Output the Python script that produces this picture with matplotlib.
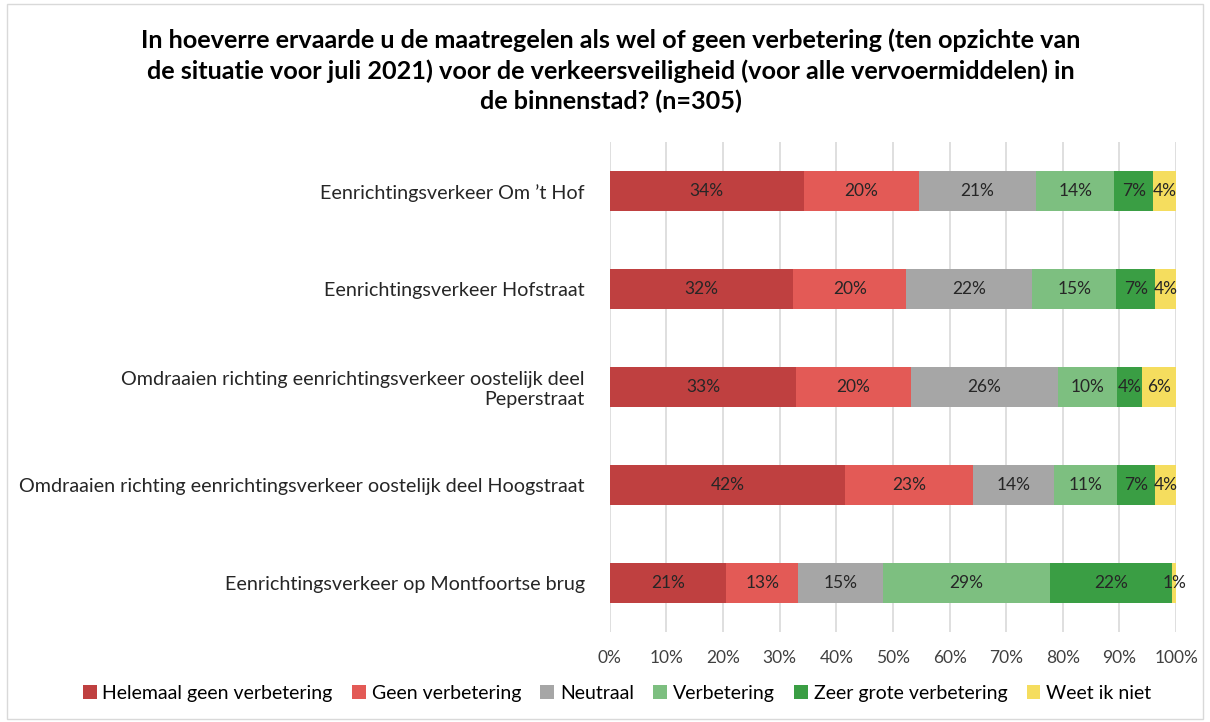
import numpy as np
import matplotlib.pyplot as plt
from matplotlib.patches import Rectangle

plt.rcParams['font.family'] = ['Lato', 'DejaVu Sans']

title = ("In hoeverre ervaarde u de maatregelen als wel of geen verbetering (ten opzichte van\n"
         "de situatie voor juli 2021) voor de verkeersveiligheid (voor alle vervoermiddelen) in\n"
         "de binnenstad? (n=305)")

categories = [
    "Eenrichtingsverkeer Om \u2019t Hof",
    "Eenrichtingsverkeer Hofstraat",
    "Omdraaien richting eenrichtingsverkeer oostelijk deel\nPeperstraat",
    "Omdraaien richting eenrichtingsverkeer oostelijk deel Hoogstraat",
    "Eenrichtingsverkeer op Montfoortse brug",
]

series = ["Helemaal geen verbetering", "Geen verbetering", "Neutraal",
          "Verbetering", "Zeer grote verbetering", "Weet ik niet"]

helemaal_geen = [34.2, 32.4, 32.9, 41.6, 20.6]
geen = [20.4, 19.9, 20.2, 22.6, 12.6]
neutraal = [20.7, 22.3, 26.1, 14.3, 15.1]
verbetering = [13.8, 14.8, 10.4, 11.0, 29.4]
zeer_groot = [6.8, 6.9, 4.4, 6.7, 21.6]
weet_niet = [4.1, 3.7, 6.0, 3.8, 0.7]

colors = ["#BF4040", "#E35A56", "#A6A6A6", "#7DBF80", "#3A9E44", "#F5DD5E"]

values = np.array([helemaal_geen, geen, neutraal, verbetering, zeer_groot, weet_niet]) / 100

fig = plt.figure(figsize=(12.1, 7.22), dpi=100)
ax = fig.add_axes([0.504, 0.125, 0.468, 0.678])

y = np.arange(len(categories))
left = np.zeros(len(categories))
for i, name in enumerate(series):
    bars = ax.barh(y, values[i], left=left, height=0.41, color=colors[i],
                   label=name, zorder=3)
    for j, b in enumerate(bars):
        ax.text(left[j] + values[i][j] / 2, y[j], f"{round(values[i][j] * 100):.0f}%",
                ha="center", va="center", fontsize=12.5, color="#262626", zorder=4)
    left += values[i]

ax.set_ylim(len(categories) - 0.5, -0.5)
ax.set_xlim(0, 1)
ax.set_xticks(np.linspace(0, 1, 11))
ax.set_xticklabels([f"{int(t)}%" for t in np.linspace(0, 100, 11)])
ax.set_yticks(y)
ax.set_yticklabels(categories, fontsize=14.2, color="#262626")
ax.tick_params(axis="y", length=0, pad=18)
ax.tick_params(axis="x", length=0, pad=13, labelsize=12.5, colors="#404040")
ax.grid(axis="x", color="#D9D9D9", linewidth=1.2, zorder=0)
for s in ax.spines.values():
    s.set_visible(False)

fig.text(0.505, 0.96, title, ha="center", va="top", fontsize=18.2, fontweight="bold",
         color="#000000", linespacing=1.35)

handles, labels = ax.get_legend_handles_labels()
fig.legend(handles, labels, loc="center", bbox_to_anchor=(0.51, 0.04), ncol=6,
           frameon=False, fontsize=14, handlelength=0.7, handleheight=0.7,
           handletextpad=0.3, columnspacing=1.0)

fig.patches.append(Rectangle((0.006, 0.004), 0.988, 0.99, transform=fig.transFigure,
                             fill=False, edgecolor="#D9D9D9", linewidth=1))

fig.savefig("out.png", dpi=100)
